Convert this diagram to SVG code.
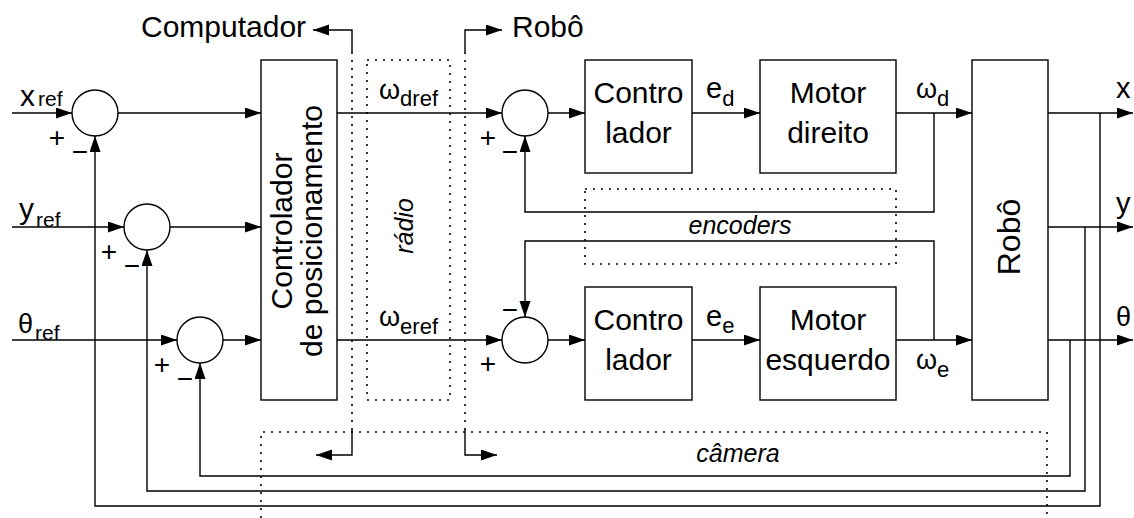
<svg xmlns="http://www.w3.org/2000/svg" width="1134" height="518" viewBox="0 0 1134 518">
<style>
.t{font-family:"Liberation Sans",Arial,sans-serif;fill:#000}
.b{fill:#fff;stroke:#000;stroke-width:1.4}
.c{fill:none;stroke:#000;stroke-width:1.4}
.dot{fill:none;stroke:#000;stroke-width:1.6;stroke-dasharray:2 6}
.a{fill:none;stroke:#000;stroke-width:1.4;marker-end:url(#ar)}
.big{font-size:30px}
.it{font-size:25px;font-style:italic}
.pm{font-size:28px}
</style>
<defs>
<marker id="ar" markerUnits="userSpaceOnUse" markerWidth="17" markerHeight="12" refX="16" refY="5.5" orient="auto" viewBox="0 0 17 12">
<path d="M0,0 L16,5.5 L0,11 z" fill="#000"/>
</marker>
</defs>
<rect width="1134" height="518" fill="#fff"/>

<g id="regions">
<rect class="dot" x="367" y="60" width="83" height="340"/>
<rect class="dot" x="585" y="189" width="311" height="75"/>
<path class="dot" d="M261,518 V432 H1047 V518"/>
<path class="dot" d="M352,52 V430"/>
<path class="dot" d="M465,52 V430"/>
<text class="t it" transform="translate(413,226) rotate(-90)" text-anchor="middle">rádio</text>
<text class="t it" x="740" y="234" text-anchor="middle">encoders</text>
<text class="t it" x="738" y="462" text-anchor="middle">câmera</text>
</g>

<g id="connectors">
<path class="a" d="M352,52 V30 H313"/>
<path class="a" d="M465,52 V30 H502"/>
<path class="a" d="M352,430 V455 H316"/>
<path class="a" d="M465,430 V455 H497"/>
<path class="a" d="M12,113 H72"/>
<path class="a" d="M12,227 H124"/>
<path class="a" d="M12,340 H177"/>
<path class="a" d="M118,113 H261"/>
<path class="a" d="M170,227 H261"/>
<path class="a" d="M223,340 H261"/>
<path class="a" d="M337,113 H502"/>
<path class="a" d="M337,340 H502"/>
<path class="a" d="M548,113 H585"/>
<path class="a" d="M548,340 H585"/>
<path class="a" d="M692,113 H760"/>
<path class="a" d="M692,340 H760"/>
<path class="a" d="M896,113 H972"/>
<path class="a" d="M896,340 H972"/>
<path class="a" d="M934,113 V212 H525 V136"/>
<path class="a" d="M934,340 V241 H525 V317"/>
<path class="a" d="M1048,113 H1133"/>
<path class="a" d="M1048,227 H1133"/>
<path class="a" d="M1048,340 H1133"/>
<path class="a" d="M1100,113 V506 H95 V136"/>
<path class="a" d="M1085,227 V491 H147 V250"/>
<path class="a" d="M1070,340 V476 H200 V363"/>
</g>

<g id="labels">
<text class="t big" x="141" y="37">Computador</text>
<text class="t big" x="512" y="37">Robô</text>
<text class="t" x="20" y="106"><tspan font-size="30">x</tspan><tspan font-size="21" dx="3">ref</tspan></text>
<text class="t" x="19" y="219"><tspan font-size="30">y</tspan><tspan font-size="21" dx="2" y="227">ref</tspan></text>
<text class="t" x="18" y="333"><tspan font-size="27">θ</tspan><tspan font-size="21" dx="2" y="340">ref</tspan></text>
<text class="t" x="379" y="99"><tspan font-size="27">ω</tspan><tspan font-size="22" y="106">dref</tspan></text>
<text class="t" x="379" y="326"><tspan font-size="27">ω</tspan><tspan font-size="22" y="334">eref</tspan></text>
<text class="t" x="706" y="98"><tspan font-size="29">e</tspan><tspan font-size="22" y="106">d</tspan></text>
<text class="t" x="706" y="326"><tspan font-size="29">e</tspan><tspan font-size="22" y="333">e</tspan></text>
<text class="t" x="916" y="98"><tspan font-size="27">ω</tspan><tspan font-size="22" y="106">d</tspan></text>
<text class="t" x="916" y="369"><tspan font-size="27">ω</tspan><tspan font-size="22" y="377">e</tspan></text>
<text class="t" x="1116" y="98" font-size="29">x</text>
<text class="t" x="1116" y="213" font-size="29">y</text>
<text class="t" x="1116" y="326" font-size="27">θ</text>
<text class="t pm" x="57" y="147" text-anchor="middle">+</text>
<text class="t pm" x="80" y="161" text-anchor="middle">−</text>
<text class="t pm" x="109" y="261" text-anchor="middle">+</text>
<text class="t pm" x="132" y="275" text-anchor="middle">−</text>
<text class="t pm" x="162" y="374" text-anchor="middle">+</text>
<text class="t pm" x="185" y="388" text-anchor="middle">−</text>
<text class="t pm" x="488" y="147" text-anchor="middle">+</text>
<text class="t pm" x="510" y="161" text-anchor="middle">−</text>
<text class="t pm" x="510" y="319" text-anchor="middle">−</text>
<text class="t pm" x="488" y="373" text-anchor="middle">+</text>
</g>

<g id="sum_x"><circle class="c" cx="95" cy="113" r="23"/></g>
<g id="sum_y"><circle class="c" cx="147" cy="227" r="23"/></g>
<g id="sum_theta"><circle class="c" cx="200" cy="340" r="23"/></g>
<g id="sum_wd"><circle class="c" cx="525" cy="113" r="23"/></g>
<g id="sum_we"><circle class="c" cx="525" cy="340" r="23"/></g>

<g id="controlador_posicionamento">
<rect class="b" x="261" y="60" width="76" height="340"/>
<text class="t big" transform="translate(292,231) rotate(-90)" text-anchor="middle">Controlador</text>
<text class="t big" transform="translate(322,231) rotate(-90)" text-anchor="middle">de posicionamento</text>
</g>
<g id="controlador_d">
<rect class="b" x="585" y="60" width="107" height="113"/>
<text class="t big" x="638.5" y="103" text-anchor="middle">Contro</text>
<text class="t big" x="638.5" y="143" text-anchor="middle">lador</text>
</g>
<g id="motor_direito">
<rect class="b" x="760" y="60" width="136" height="113"/>
<text class="t big" x="828" y="103" text-anchor="middle">Motor</text>
<text class="t big" x="828" y="143" text-anchor="middle">direito</text>
</g>
<g id="controlador_e">
<rect class="b" x="585" y="287" width="107" height="113"/>
<text class="t big" x="638.5" y="330" text-anchor="middle">Contro</text>
<text class="t big" x="638.5" y="370" text-anchor="middle">lador</text>
</g>
<g id="motor_esquerdo">
<rect class="b" x="760" y="287" width="136" height="113"/>
<text class="t big" x="828" y="330" text-anchor="middle">Motor</text>
<text class="t big" x="828" y="370" text-anchor="middle">esquerdo</text>
</g>
<g id="robo">
<rect class="b" x="972" y="60" width="76" height="340"/>
<text class="t" font-size="32" transform="translate(1020,237) rotate(-90)" text-anchor="middle">Robô</text>
</g>
</svg>
